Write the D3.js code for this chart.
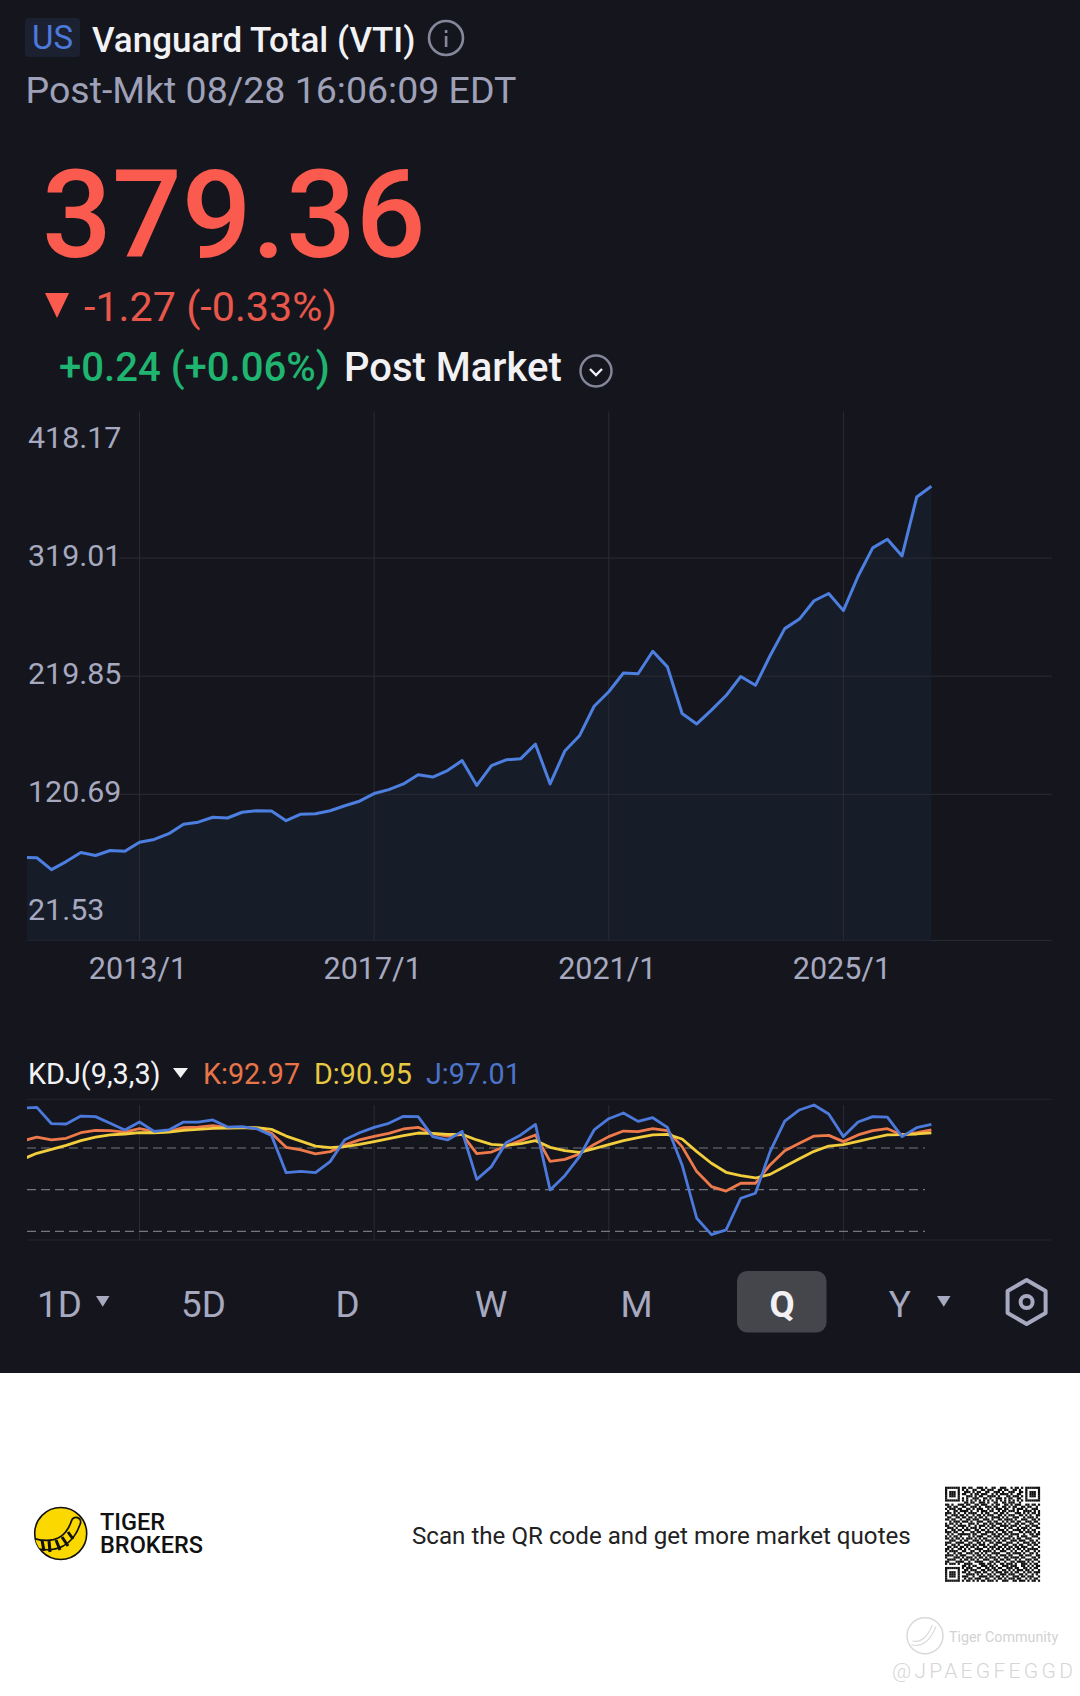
<!DOCTYPE html>
<html>
<head>
<meta charset="utf-8">
<title>VTI</title>
<script src="https://cdn.jsdelivr.net/npm/d3@7"></script>
<style>
html, body { margin: 0; padding: 0; background: #fff; }
svg { display: block; }
text { font-family: Roboto, sans-serif; }
</style>
</head>
<body>
<div id="chart"></div>
<script>
// quarterly close, one value per quarter; index 8 is 2013/1
var closes = [67.7, 67.4, 57.4, 64.2, 71.9, 69.3, 73.5, 72.8,
	80.5, 82.8, 87.6, 95.6, 97.3, 101.4, 100.8, 105.6,
	106.9, 106.6, 98.5, 104.0, 104.3, 106.9, 111.1, 114.9,
	121.3, 124.6, 129.4, 137.1, 135.2, 140.6, 149.0, 128.1,
	144.8, 149.6, 150.6, 162.8, 129.4, 157.0, 169.8, 194.6,
	206.8, 222.5, 221.9, 240.8, 227.7, 188.5, 179.8, 191.4,
	203.6, 219.6, 212.2, 237.0, 259.8, 267.8, 283.2, 289.3,
	274.9, 303.8, 327.6, 334.9, 320.8, 370.3, 379.36];

var kValues = [85.0, 87.9, 85.8, 87.0, 91.0, 92.7, 92.5, 91.5,
	93.9, 91.8, 92.0, 94.6, 95.1, 96.1, 94.6, 94.9,
	94.2, 90.6, 80.5, 78.6, 75.7, 77.4, 82.2, 85.8,
	88.4, 90.6, 93.7, 94.9, 90.3, 88.6, 89.8, 75.9,
	77.1, 81.4, 85.3, 89.4, 70.4, 71.8, 75.7, 82.6,
	88.2, 92.2, 91.8, 93.9, 92.5, 81.0, 63.0, 52.2,
	49.0, 54.6, 54.6, 67.8, 78.1, 83.4, 88.6, 89.1,
	84.6, 89.4, 92.5, 93.9, 89.4, 91.0, 92.97];

var dValues = [71.8, 76.2, 79.0, 81.9, 85.3, 87.9, 89.4, 90.1,
	91.0, 91.0, 91.5, 92.7, 93.4, 94.2, 94.4, 94.6,
	94.6, 93.4, 88.6, 85.0, 81.4, 80.2, 81.0, 82.6,
	84.6, 86.7, 88.9, 90.8, 90.6, 89.8, 89.8, 85.8,
	82.6, 81.9, 83.1, 85.3, 80.5, 78.1, 76.9, 79.5,
	82.4, 85.3, 87.4, 89.4, 89.8, 86.5, 77.4, 69.0,
	62.5, 60.1, 58.4, 61.0, 66.6, 72.3, 77.6, 81.4,
	82.4, 84.8, 87.2, 89.4, 89.6, 90.1, 90.95];

var jValues = [108.8, 109.3, 97.5, 97.3, 103.0, 102.6, 97.8, 93.0,
	98.7, 92.0, 93.0, 98.7, 98.7, 100.2, 95.1, 95.4,
	93.9, 89.1, 62.2, 63.2, 62.2, 70.2, 86.0, 91.0,
	94.9, 97.8, 102.8, 102.6, 88.2, 85.8, 92.0, 57.4,
	66.6, 83.8, 89.4, 97.0, 49.8, 60.1, 73.8, 93.0,
	101.1, 105.2, 99.2, 101.8, 94.9, 67.8, 29.4, 17.6,
	21.0, 43.8, 47.4, 77.4, 99.4, 107.4, 111.0, 104.5,
	88.2, 98.7, 102.6, 102.3, 88.2, 94.6, 97.01];

var priceTicks = [418.17, 319.01, 219.85, 120.69, 21.53];
var priceGrid = [319.01, 219.85, 120.69];
var kdjLevels = [80, 50, 20];
var dateTicks = [8, 24, 40, 56];
var dateLabels = ["2013/1", "2017/1", "2021/1", "2025/1"];

var tabNames = ["5D", "D", "W", "M", "Y"];
var tabCenters = [203.5, 347.5, 491, 636.6, 899.7];

// qr modules as printed, 1 = dark
var qrRows = [
	"111111101101100111010011001110010110101111111",
	"100000101010011001101110011011001101001000001",
	"101110100111010110011001110100111001101011101",
	"101110101100101101110010101111010011001011101",
	"101110100011101011001111010001101110101011101",
	"100000101010011100110100111010110011001000001",
	"111111101010101010101010101010101010101111111",
	"000000000110110011101001100110111001000000000",
	"110100111011001101110010110011010111001101101",
	"011011001100111010011101100110101100110110010",
	"101110110011010111001010111011001011101001110",
	"010011011110100101110110010110111010011110101",
	"111010100101111001011001101101000111010101101",
	"100111011010010110101110011010111001101010011",
	"011001101101101011010011110101001110010111010",
	"110110010011011100111010011011110100111001101",
	"001011101110100111001101100101011011001110110",
	"101101010001110100110110111010100110110011001",
	"110010111101001011101011001111011101001101110",
	"011101001010111010010110110010110010111010011",
	"100110110111001101101001011101001111010101100",
	"111011001000110110011110100110110001101110101",
	"010100111111011001110011011011011110010011011",
	"101011010001010111001101110100110010111001110",
	"110101101011101010110010101011101011001110001",
	"001110010110011101011101010110011101110011010",
	"111001111001100110100110111001110010011101101",
	"100110100111011011101001100111001101100110110",
	"011011011010110100110111011010110110111001001",
	"110100110101001111001010110101101011010111110",
	"101111001100110010111101001110010100101100101",
	"010010110011101101010011110001101111010011010",
	"111101011100010110101100101110110001101110011",
	"100011101011101011010111010011011110110001101",
	"011110010110110100111001101101100101001110110",
	"110001111001001111000110110010011011110101001",
	"101110100111100011101101001101110100111010110",
	"000000001101011001110110100111011100110101011",
	"111111101011100110011011011001110110011010110",
	"100000100110111001101101100110101011101101001",
	"101110101101001110110010111011010110010110111",
	"101110100011110101001101001110111001101001010",
	"101110101110010011110110110101001110110111001",
	"100000100101101110011001011010111011001010110",
	"111111101011010101101110100111001101110101101"
];

var W = 1080, H = 1696;
var bg = "#15161d", grey = "#a6a9bf", gridc = "#2a2c35", white = "#f2f2f5";
var red = "#fb5a4e", green = "#1fb46f";
var kc = "#ee7a4c", dc = "#f2cd3c", jc = "#4c79dc";

var svg = d3.select("#chart").append("svg").attr("width", W).attr("height", H);
svg.append("rect").attr("width", W).attr("height", H).attr("fill", "#fff");
svg.append("rect").attr("width", W).attr("height", 1373).attr("fill", bg);

function label(x, y, s, size, color, weight, anchor) {
	return svg.append("text").attr("x", x).attr("y", y).attr("font-size", size)
		.attr("fill", color).attr("font-weight", weight || 400)
		.attr("text-anchor", anchor || "start").text(s);
}

// header
svg.append("rect").attr("x", 25).attr("y", 18).attr("width", 55).attr("height", 39).attr("rx", 4).attr("fill", "#1b2130");
label(52.5, 49, "US", 33, "#4c79dc", 400, "middle");
label(92, 52, "Vanguard Total (VTI)", 35, white, 500);
svg.append("circle").attr("cx", 446).attr("cy", 38).attr("r", 17).attr("fill", "none").attr("stroke", "#85879a").attr("stroke-width", 2.6);
svg.append("rect").attr("x", 444.8).attr("y", 36).attr("width", 2.6).attr("height", 11).attr("fill", "#85879a");
svg.append("rect").attr("x", 444.8).attr("y", 30).attr("width", 2.6).attr("height", 3).attr("fill", "#85879a");
label(25.5, 102.5, "Post-Mkt 08/28 16:06:09 EDT", 37.5, "#9ea1b8", 400);

label(42, 257, "379.36", 123, red, 500);
svg.append("path").attr("d", "M45,293 L69,293 L57,318 Z").attr("fill", red);
label(84, 320.5, "-1.27 (-0.33%)", 41.3, "#e9574b", 400);
label(59, 380.5, "+0.24 (+0.06%)", 40.1, green, 500);
label(344, 380.5, "Post Market", 40, white, 500);
svg.append("circle").attr("cx", 596).attr("cy", 371).attr("r", 15.5).attr("fill", "none").attr("stroke", "#85879a").attr("stroke-width", 2.4);
svg.append("path").attr("d", "M590,369 L596,375 L602,369").attr("fill", "none").attr("stroke", white).attr("stroke-width", 2.4);

// x scale is by quarter index, 16 quarters between date labels
var x = d3.scaleLinear().domain([8, 56]).range([139.5, 843.4]);
var y = d3.scaleLinear().domain([21.53, 418.17]).range([912.4, 440]);
var yk = d3.scaleLinear().domain([20, 80]).range([1231.3, 1148]);
var mainBottom = 940.4, mainTop = 411.5;
var plotL = 27, plotR = 1052;

svg.append("clipPath").attr("id", "plot").append("rect")
	.attr("x", plotL).attr("y", 400).attr("width", plotR - plotL).attr("height", 860);

svg.append("line").attr("x1", plotL).attr("x2", plotR).attr("y1", mainBottom).attr("y2", mainBottom).attr("stroke", gridc);

// price area + line, grid shows through the area
var idx = function(d, i){ return x(i); };
var area = d3.area().x(idx).y0(mainBottom).y1(function(d){ return y(d); });
var line = d3.line().x(idx).y(function(d){ return y(d); });
var clipped = svg.append("g").attr("clip-path", "url(#plot)");
clipped.append("path").attr("d", area(closes)).attr("fill", "#171c29");
clipped.selectAll("line.v").data(dateTicks).join("line").attr("class", "v")
	.attr("x1", function(d){ return x(d); }).attr("x2", function(d){ return x(d); })
	.attr("y1", mainTop).attr("y2", mainBottom).attr("stroke", gridc);
clipped.selectAll("line.h").data(priceGrid).join("line").attr("class", "h")
	.attr("x1", 119).attr("x2", plotR)
	.attr("y1", function(d){ return y(d); }).attr("y2", function(d){ return y(d); })
	.attr("stroke", gridc);
clipped.append("path").attr("d", line(closes)).attr("fill", "none").attr("stroke", "#4c7fe0").attr("stroke-width", 3).attr("stroke-linejoin", "round");

// axes
var yAxis = d3.axisRight(y).tickValues(priceTicks).tickSize(0).tickPadding(0).tickFormat(d3.format(".2f"));
var yg = svg.append("g").attr("transform", "translate(" + (plotL + 1) + ",0)").call(yAxis);
yg.select(".domain").remove();
yg.selectAll("text").attr("font-size", 30.4).attr("fill", grey).attr("dy", "0.24em").style("font-family", "Roboto");

var xAxis = d3.axisBottom(x).tickValues(dateTicks).tickSize(0).tickPadding(0)
	.tickFormat(function(d, i){ return dateLabels[i]; });
var xg = svg.append("g").attr("transform", "translate(-2,979)").call(xAxis);
xg.select(".domain").remove();
xg.selectAll("text").attr("font-size", 30.5).attr("fill", grey).attr("dy", 0).attr("y", 0).style("font-family", "Roboto");

// kdj legend
label(28, 1084, "KDJ(9,3,3)", 28.8, white, 400);
svg.append("path").attr("d", "M173,1068 L188,1068 L180.5,1078 Z").attr("fill", white);
label(203, 1084, "K:" + kValues[kValues.length - 1], 28.7, "#e8744a", 400);
label(314, 1084, "D:" + dValues[dValues.length - 1], 28.7, "#e8ca42", 400);
label(426, 1084, "J:" + jValues[jValues.length - 1], 28.7, "#4c74c8", 400);

// kdj panel
svg.append("line").attr("x1", plotL).attr("x2", plotR).attr("y1", 1099.3).attr("y2", 1099.3).attr("stroke", "#22242c");
svg.append("line").attr("x1", plotL).attr("x2", plotR).attr("y1", 1240).attr("y2", 1240).attr("stroke", "#22242c");
svg.append("g").selectAll("line").data(dateTicks).join("line")
	.attr("x1", function(d){ return x(d); }).attr("x2", function(d){ return x(d); })
	.attr("y1", 1105).attr("y2", 1240).attr("stroke", gridc);
svg.append("g").selectAll("line").data(kdjLevels).join("line")
	.attr("x1", plotL).attr("x2", 925)
	.attr("y1", function(d){ return yk(d); }).attr("y2", function(d){ return yk(d); })
	.attr("stroke", "#74767f").attr("stroke-width", 1.2).attr("stroke-dasharray", "9,5");

var kdjLine = d3.line().x(idx).y(function(d){ return yk(d); });
var kdj = svg.append("g").attr("clip-path", "url(#plot)");
[[kValues, kc], [dValues, dc], [jValues, jc]].forEach(function(s){
	kdj.append("path").attr("d", kdjLine(s[0])).attr("fill", "none").attr("stroke", s[1]).attr("stroke-width", 2.8).attr("stroke-linejoin", "round");
});

// period tabs
label(59.5, 1316.7, "1D", 36.8, grey, 400, "middle");
svg.append("rect").attr("x", 737).attr("y", 1271).attr("width", 89.5).attr("height", 61.5).attr("rx", 10).attr("fill", "#45464c");
tabNames.forEach(function(t, i){ label(tabCenters[i], 1316.7, t, 36.8, grey, 400, "middle"); });
label(782, 1316.7, "Q", 36.5, white, 700, "middle");
svg.append("path").attr("d", "M96,1296 L109.5,1296 L102.75,1306.7 Z").attr("fill", grey);
svg.append("path").attr("d", "M937,1296 L950.5,1296 L943.75,1306.7 Z").attr("fill", grey);
// settings hexagon
svg.append("path").attr("d", "M1026.6,1280 L1045.6,1291 L1045.6,1313 L1026.6,1324 L1007.6,1313 L1007.6,1291 Z")
	.attr("fill", "none").attr("stroke", grey).attr("stroke-width", 4).attr("stroke-linejoin", "round");
svg.append("circle").attr("cx", 1026.6).attr("cy", 1302).attr("r", 6).attr("fill", "none").attr("stroke", grey).attr("stroke-width", 4);

// footer
svg.append("clipPath").attr("id", "logo").append("circle").attr("cx", 60.7).attr("cy", 1533.5).attr("r", 26);
svg.append("circle").attr("cx", 60.7).attr("cy", 1533.5).attr("r", 26).attr("fill", "#fbd800").attr("stroke", "#111").attr("stroke-width", 1.6);
var logo = svg.append("g").attr("clip-path", "url(#logo)");
var tail = "M33,1543 Q66,1552 76,1522";
logo.append("path").attr("d", tail).attr("fill", "none").attr("stroke", "#111").attr("stroke-width", 11).attr("stroke-linecap", "round");
logo.append("path").attr("d", tail).attr("fill", "none").attr("stroke", "#fbd800").attr("stroke-width", 7.5).attr("stroke-linecap", "round");
["M42,1540 L44,1551", "M49,1541 L50,1552", "M56,1540 L60,1550", "M62,1537 L68,1546", "M68,1532 L73,1539"].forEach(function(d){
	logo.append("path").attr("d", d).attr("stroke", "#111").attr("stroke-width", 3);
});
// brand name is one text, two lines
var brand = svg.append("text").attr("font-size", 23.5).attr("font-weight", 500).attr("fill", "#111");
brand.append("tspan").attr("x", 100).attr("y", 1530).text("TIGER");
brand.append("tspan").attr("x", 100).attr("y", 1553).text("BROKERS");
label(412, 1544, "Scan the QR code and get more market quotes", 24.15, "#222", 400);

// qr
var qrBand = d3.scaleBand().domain(d3.range(45)).range([945, 1040]);
var qrBandY = d3.scaleBand().domain(d3.range(45)).range([1486.7, 1581.7]);
var qrCells = [];
qrRows.forEach(function(row, r){
	row.slice(0, 45).split("").forEach(function(c, col){ if (c === "1") qrCells.push([r, col]); });
});
svg.append("g").selectAll("rect").data(qrCells).join("rect")
	.attr("x", function(d){ return qrBand(d[1]); }).attr("y", function(d){ return qrBandY(d[0]); })
	.attr("width", qrBand.bandwidth() + 0.1).attr("height", qrBandY.bandwidth() + 0.1).attr("fill", "#111");

// watermark
svg.append("circle").attr("cx", 925).attr("cy", 1635.7).attr("r", 18).attr("fill", "none").attr("stroke", "#d8d8d8").attr("stroke-width", 1.4);
svg.append("path").attr("d", "M912,1643 Q926,1646 934,1626").attr("fill", "none").attr("stroke", "#d8d8d8").attr("stroke-width", 5);
svg.append("path").attr("d", "M912,1643 Q926,1646 934,1626").attr("fill", "none").attr("stroke", "#fff").attr("stroke-width", 3);
label(949, 1641.5, "Tiger Community", 14.3, "#d2d2d2", 400);
label(892, 1678, "@JPAEGFEGGD", 21, "#d6d6d6", 300).attr("letter-spacing", 3.3);
</script>
</body>
</html>
